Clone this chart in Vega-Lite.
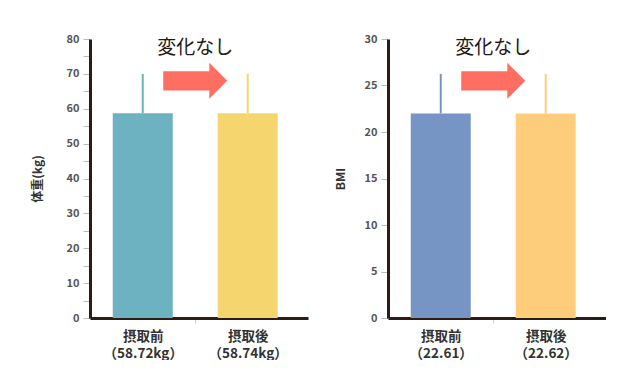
{
  "$schema": "https://vega.github.io/schema/vega-lite/v6.json",
  "padding": {"left": 31, "top": 33, "right": 0, "bottom": 0},
  "background": "white",
  "config": {
    "font": "Noto Sans CJK JP",
    "view": {"stroke": null},
    "concat": {"spacing": 26}
  },
  "resolve": {"scale": {"color": "independent", "y": "independent"}},
  "datasets": {
    "weight": [
      {"order": 1, "label": "摂取前", "mean": 58.72, "upper": 70},
      {"order": 2, "label": "摂取後", "mean": 58.74, "upper": 70}
    ],
    "weightNote": [{"order": 1.5, "arrowY": 68, "textY": 77.4, "note": "変化なし"}],
    "bmi": [
      {"order": 1, "label": "摂取前", "mean": 22.0, "upper": 26.25},
      {"order": 2, "label": "摂取後", "mean": 22.0, "upper": 26.25}
    ],
    "bmiNote": [{"order": 1.5, "arrowY": 25.5, "textY": 29.0, "note": "変化なし"}]
  },
  "hconcat": [
    {
      "width": 218,
      "height": 279,
      "layer": [
        {
          "data": {"name": "weight"},
          "mark": {"type": "bar", "width": 60},
          "encoding": {
            "x": {
              "field": "order", "type": "quantitative",
              "scale": {"domain": [0.545, 2.527], "nice": false, "zero": false},
              "axis": {
                "values": [1, 1.5, 2],
                "labelExpr": "datum.value == 1 ? ['摂取前','（58.72kg）'] : datum.value == 2 ? ['摂取後','（58.74kg）'] : ''",
                "title": null, "grid": false, "labelOverlap": false,
                "domainColor": "#2b1d16", "domainWidth": 3,
                "tickColor": {"condition": {"test": "datum.value == 1.5", "value": "#cccccc"}, "value": "transparent"},
                "tickSize": 5, "labelPadding": 6,
                "labelFontSize": 13.5, "labelFontWeight": "bold", "labelColor": "#333333",
                "labelLineHeight": 17, "labelAngle": 0
              }
            },
            "y": {
              "field": "mean", "type": "quantitative",
              "scale": {"domain": [0, 80], "nice": false},
              "axis": {
                "values": [0, 5, 10, 15, 20, 25, 30, 35, 40, 45, 50, 55, 60, 65, 70, 75, 80],
                "labelExpr": "datum.value % 10 == 0 ? datum.label : ''",
                "labelOverlap": false,
                "title": "体重(kg)", "titleFontSize": 12, "titleFontWeight": "bold", "titleColor": "#333333", "titlePadding": 22,
                "grid": false,
                "domainColor": "#2b1d16", "domainWidth": 3,
                "tickColor": "#bbbbbb", "tickSize": 7, "labelPadding": 4,
                "labelFontSize": 11, "labelFontWeight": "bold", "labelColor": "#555555"
              }
            },
            "color": {
              "field": "label", "type": "nominal",
              "scale": {"domain": ["摂取前", "摂取後"], "range": ["#6cb2c0", "#f5d66e"]},
              "legend": null
            }
          }
        },
        {
          "data": {"name": "weight"},
          "mark": {"type": "rule", "strokeWidth": 2},
          "encoding": {
            "x": {"field": "order", "type": "quantitative"},
            "y": {
              "field": "mean", "type": "quantitative",
              "axis": {
                "values": [0, 5, 10, 15, 20, 25, 30, 35, 40, 45, 50, 55, 60, 65, 70, 75, 80],
                "labelExpr": "datum.value % 10 == 0 ? datum.label : ''",
                "labelOverlap": false,
                "title": "体重(kg)", "titleFontSize": 12, "titleFontWeight": "bold", "titleColor": "#333333", "titlePadding": 22,
                "grid": false,
                "domainColor": "#2b1d16", "domainWidth": 3,
                "tickColor": "#bbbbbb", "tickSize": 7, "labelPadding": 4,
                "labelFontSize": 11, "labelFontWeight": "bold", "labelColor": "#555555"
              }
            },
            "y2": {"field": "upper"},
            "color": {"field": "label", "type": "nominal", "legend": null}
          }
        },
        {
          "data": {"name": "weightNote"},
          "mark": {"type": "point", "shape": "M-1,-0.3L0.44,-0.3L0.44,-0.5625L1,0L0.44,0.5625L0.44,0.3L-1,0.3Z", "filled": true, "size": 4096, "color": "#ff6f61", "opacity": 1},
          "encoding": {
            "x": {"field": "order", "type": "quantitative"},
            "y": {
              "field": "arrowY", "type": "quantitative",
              "axis": {
                "values": [0, 5, 10, 15, 20, 25, 30, 35, 40, 45, 50, 55, 60, 65, 70, 75, 80],
                "labelExpr": "datum.value % 10 == 0 ? datum.label : ''",
                "labelOverlap": false,
                "title": "体重(kg)", "titleFontSize": 12, "titleFontWeight": "bold", "titleColor": "#333333", "titlePadding": 22,
                "grid": false,
                "domainColor": "#2b1d16", "domainWidth": 3,
                "tickColor": "#bbbbbb", "tickSize": 7, "labelPadding": 4,
                "labelFontSize": 11, "labelFontWeight": "bold", "labelColor": "#555555"
              }
            }
          }
        },
        {
          "data": {"name": "weightNote"},
          "mark": {"type": "text", "fontSize": 19, "color": "#231815", "fontWeight": "normal"},
          "encoding": {
            "x": {"field": "order", "type": "quantitative"},
            "y": {
              "field": "textY", "type": "quantitative",
              "axis": {
                "values": [0, 5, 10, 15, 20, 25, 30, 35, 40, 45, 50, 55, 60, 65, 70, 75, 80],
                "labelExpr": "datum.value % 10 == 0 ? datum.label : ''",
                "labelOverlap": false,
                "title": "体重(kg)", "titleFontSize": 12, "titleFontWeight": "bold", "titleColor": "#333333", "titlePadding": 22,
                "grid": false,
                "domainColor": "#2b1d16", "domainWidth": 3,
                "tickColor": "#bbbbbb", "tickSize": 7, "labelPadding": 4,
                "labelFontSize": 11, "labelFontWeight": "bold", "labelColor": "#555555"
              }
            },
            "text": {"field": "note"}
          }
        }
      ]
    },
    {
      "width": 218,
      "height": 279,
      "layer": [
        {
          "data": {"name": "bmi"},
          "mark": {"type": "bar", "width": 60},
          "encoding": {
            "x": {
              "field": "order", "type": "quantitative",
              "scale": {"domain": [0.545, 2.527], "nice": false, "zero": false},
              "axis": {
                "values": [1, 1.5, 2],
                "labelExpr": "datum.value == 1 ? ['摂取前','（22.61）'] : datum.value == 2 ? ['摂取後','（22.62）'] : ''",
                "title": null, "grid": false, "labelOverlap": false,
                "domainColor": "#2b1d16", "domainWidth": 3,
                "tickColor": {"condition": {"test": "datum.value == 1.5", "value": "#cccccc"}, "value": "transparent"},
                "tickSize": 5, "labelPadding": 6,
                "labelFontSize": 13.5, "labelFontWeight": "bold", "labelColor": "#333333",
                "labelLineHeight": 17, "labelAngle": 0
              }
            },
            "y": {
              "field": "mean", "type": "quantitative",
              "scale": {"domain": [0, 30], "nice": false},
              "axis": {
                "values": [0, 5, 10, 15, 20, 25, 30],
                "labelOverlap": false,
                "title": "BMI", "titleFontSize": 12, "titleFontWeight": "bold", "titleColor": "#333333", "titlePadding": 17,
                "grid": false,
                "domainColor": "#2b1d16", "domainWidth": 3,
                "tickColor": "#bbbbbb", "tickSize": 7, "labelPadding": 4,
                "labelFontSize": 11, "labelFontWeight": "bold", "labelColor": "#555555"
              }
            },
            "color": {
              "field": "label", "type": "nominal",
              "scale": {"domain": ["摂取前", "摂取後"], "range": ["#7694c4", "#fecd7c"]},
              "legend": null
            }
          }
        },
        {
          "data": {"name": "bmi"},
          "mark": {"type": "rule", "strokeWidth": 2},
          "encoding": {
            "x": {"field": "order", "type": "quantitative"},
            "y": {"field": "mean", "type": "quantitative"},
            "y2": {"field": "upper"},
            "color": {"field": "label", "type": "nominal", "legend": null}
          }
        },
        {
          "data": {"name": "bmiNote"},
          "mark": {"type": "point", "shape": "M-1,-0.3L0.44,-0.3L0.44,-0.5625L1,0L0.44,0.5625L0.44,0.3L-1,0.3Z", "filled": true, "size": 4096, "color": "#ff6f61", "opacity": 1},
          "encoding": {
            "x": {"field": "order", "type": "quantitative"},
            "y": {"field": "arrowY", "type": "quantitative"}
          }
        },
        {
          "data": {"name": "bmiNote"},
          "mark": {"type": "text", "fontSize": 19, "color": "#231815", "fontWeight": "normal"},
          "encoding": {
            "x": {"field": "order", "type": "quantitative"},
            "y": {"field": "textY", "type": "quantitative"},
            "text": {"field": "note"}
          }
        }
      ]
    }
  ]
}
